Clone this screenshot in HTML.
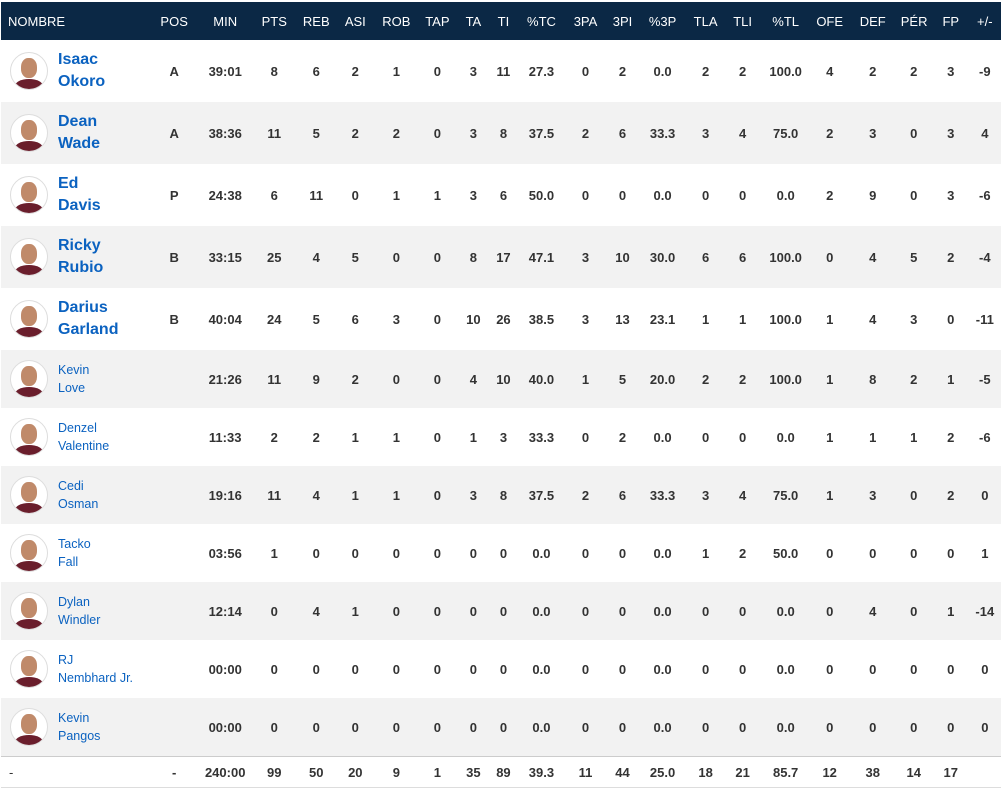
<!DOCTYPE html>
<html><head><meta charset="utf-8"><style>
html,body{margin:0;padding:0;background:#fff;width:1003px;height:790px;overflow:hidden}
table{position:absolute;left:1px;top:2px;border-collapse:collapse;table-layout:fixed;width:1000px;font-family:"Liberation Sans",Arial,sans-serif}
th{background:#0b2845;color:#fff;font-weight:normal;font-size:13px;height:38px;padding:0;text-align:center}
th.n{text-align:left;padding-left:7px}
td{padding:0;text-align:center;font-size:13px;font-weight:bold;color:#333}
tr.s td{height:62px}
tr.b td{height:58px}
tr:nth-child(odd) td{background:#f2f2f2}
tr:nth-child(even) td{background:#fff}
td.n{text-align:left;position:relative;box-shadow:3px 0 4px -2px rgba(0,0,0,.12)}
.av{position:absolute;left:9px;top:50%;margin-top:-19px;width:36px;height:36px;border-radius:50%;border:1px solid #ddd;background:#fff;overflow:hidden}
.av i{position:absolute;left:10px;top:5px;width:16px;height:20px;border-radius:45%;background:#c08a6a}
.av b{position:absolute;left:4px;top:26px;width:28px;height:14px;border-radius:50% 50% 0 0;background:#6a1e2c}
.nm{position:absolute;left:57px;top:50%;transform:translateY(-50%);color:#0b62c0;line-height:22px;font-size:16px}
tr.b .nm{font-size:12.5px;font-weight:normal;line-height:18px}
tr.t td{height:30px;background:#fff;border-top:1px solid #ccc;border-bottom:1px solid #ddd;font-size:13px}
</style></head><body>
<table>
<colgroup><col style="width:151px"><col style="width:44px"><col style="width:58px"><col style="width:40px"><col style="width:44px"><col style="width:34px"><col style="width:48px"><col style="width:34px"><col style="width:38px"><col style="width:22px"><col style="width:54px"><col style="width:34px"><col style="width:40px"><col style="width:40px"><col style="width:46px"><col style="width:28px"><col style="width:58px"><col style="width:30px"><col style="width:56px"><col style="width:26px"><col style="width:48px"><col style="width:20px"><col style="width:6px"></colgroup>
<tr><th class="n">NOMBRE</th><th>POS</th><th>MIN</th><th>PTS</th><th>REB</th><th>ASI</th><th>ROB</th><th>TAP</th><th>TA</th><th>TI</th><th>%TC</th><th>3PA</th><th>3PI</th><th>%3P</th><th>TLA</th><th>TLI</th><th>%TL</th><th>OFE</th><th>DEF</th><th>PÉR</th><th>FP</th><th>+/-</th><th></th></tr>
<tr class="s"><td class="n"><span class="av"><i></i><b></b></span><span class="nm">Isaac<br>Okoro</span></td><td>A</td><td>39:01</td><td>8</td><td>6</td><td>2</td><td>1</td><td>0</td><td>3</td><td>11</td><td>27.3</td><td>0</td><td>2</td><td>0.0</td><td>2</td><td>2</td><td>100.0</td><td>4</td><td>2</td><td>2</td><td>3</td><td>-9</td><td></td></tr>
<tr class="s"><td class="n"><span class="av"><i></i><b></b></span><span class="nm">Dean<br>Wade</span></td><td>A</td><td>38:36</td><td>11</td><td>5</td><td>2</td><td>2</td><td>0</td><td>3</td><td>8</td><td>37.5</td><td>2</td><td>6</td><td>33.3</td><td>3</td><td>4</td><td>75.0</td><td>2</td><td>3</td><td>0</td><td>3</td><td>4</td><td></td></tr>
<tr class="s"><td class="n"><span class="av"><i></i><b></b></span><span class="nm">Ed<br>Davis</span></td><td>P</td><td>24:38</td><td>6</td><td>11</td><td>0</td><td>1</td><td>1</td><td>3</td><td>6</td><td>50.0</td><td>0</td><td>0</td><td>0.0</td><td>0</td><td>0</td><td>0.0</td><td>2</td><td>9</td><td>0</td><td>3</td><td>-6</td><td></td></tr>
<tr class="s"><td class="n"><span class="av"><i></i><b></b></span><span class="nm">Ricky<br>Rubio</span></td><td>B</td><td>33:15</td><td>25</td><td>4</td><td>5</td><td>0</td><td>0</td><td>8</td><td>17</td><td>47.1</td><td>3</td><td>10</td><td>30.0</td><td>6</td><td>6</td><td>100.0</td><td>0</td><td>4</td><td>5</td><td>2</td><td>-4</td><td></td></tr>
<tr class="s"><td class="n"><span class="av"><i></i><b></b></span><span class="nm">Darius<br>Garland</span></td><td>B</td><td>40:04</td><td>24</td><td>5</td><td>6</td><td>3</td><td>0</td><td>10</td><td>26</td><td>38.5</td><td>3</td><td>13</td><td>23.1</td><td>1</td><td>1</td><td>100.0</td><td>1</td><td>4</td><td>3</td><td>0</td><td>-11</td><td></td></tr>
<tr class="b"><td class="n"><span class="av"><i></i><b></b></span><span class="nm">Kevin<br>Love</span></td><td></td><td>21:26</td><td>11</td><td>9</td><td>2</td><td>0</td><td>0</td><td>4</td><td>10</td><td>40.0</td><td>1</td><td>5</td><td>20.0</td><td>2</td><td>2</td><td>100.0</td><td>1</td><td>8</td><td>2</td><td>1</td><td>-5</td><td></td></tr>
<tr class="b"><td class="n"><span class="av"><i></i><b></b></span><span class="nm">Denzel<br>Valentine</span></td><td></td><td>11:33</td><td>2</td><td>2</td><td>1</td><td>1</td><td>0</td><td>1</td><td>3</td><td>33.3</td><td>0</td><td>2</td><td>0.0</td><td>0</td><td>0</td><td>0.0</td><td>1</td><td>1</td><td>1</td><td>2</td><td>-6</td><td></td></tr>
<tr class="b"><td class="n"><span class="av"><i></i><b></b></span><span class="nm">Cedi<br>Osman</span></td><td></td><td>19:16</td><td>11</td><td>4</td><td>1</td><td>1</td><td>0</td><td>3</td><td>8</td><td>37.5</td><td>2</td><td>6</td><td>33.3</td><td>3</td><td>4</td><td>75.0</td><td>1</td><td>3</td><td>0</td><td>2</td><td>0</td><td></td></tr>
<tr class="b"><td class="n"><span class="av"><i></i><b></b></span><span class="nm">Tacko<br>Fall</span></td><td></td><td>03:56</td><td>1</td><td>0</td><td>0</td><td>0</td><td>0</td><td>0</td><td>0</td><td>0.0</td><td>0</td><td>0</td><td>0.0</td><td>1</td><td>2</td><td>50.0</td><td>0</td><td>0</td><td>0</td><td>0</td><td>1</td><td></td></tr>
<tr class="b"><td class="n"><span class="av"><i></i><b></b></span><span class="nm">Dylan<br>Windler</span></td><td></td><td>12:14</td><td>0</td><td>4</td><td>1</td><td>0</td><td>0</td><td>0</td><td>0</td><td>0.0</td><td>0</td><td>0</td><td>0.0</td><td>0</td><td>0</td><td>0.0</td><td>0</td><td>4</td><td>0</td><td>1</td><td>-14</td><td></td></tr>
<tr class="b"><td class="n"><span class="av"><i></i><b></b></span><span class="nm">RJ<br>Nembhard Jr.</span></td><td></td><td>00:00</td><td>0</td><td>0</td><td>0</td><td>0</td><td>0</td><td>0</td><td>0</td><td>0.0</td><td>0</td><td>0</td><td>0.0</td><td>0</td><td>0</td><td>0.0</td><td>0</td><td>0</td><td>0</td><td>0</td><td>0</td><td></td></tr>
<tr class="b"><td class="n"><span class="av"><i></i><b></b></span><span class="nm">Kevin<br>Pangos</span></td><td></td><td>00:00</td><td>0</td><td>0</td><td>0</td><td>0</td><td>0</td><td>0</td><td>0</td><td>0.0</td><td>0</td><td>0</td><td>0.0</td><td>0</td><td>0</td><td>0.0</td><td>0</td><td>0</td><td>0</td><td>0</td><td>0</td><td></td></tr>
<tr class="t"><td class="n" style="padding-left:8px;font-weight:normal">-</td><td>-</td><td>240:00</td><td>99</td><td>50</td><td>20</td><td>9</td><td>1</td><td>35</td><td>89</td><td>39.3</td><td>11</td><td>44</td><td>25.0</td><td>18</td><td>21</td><td>85.7</td><td>12</td><td>38</td><td>14</td><td>17</td><td></td><td></td></tr>
</table>
</body></html>
